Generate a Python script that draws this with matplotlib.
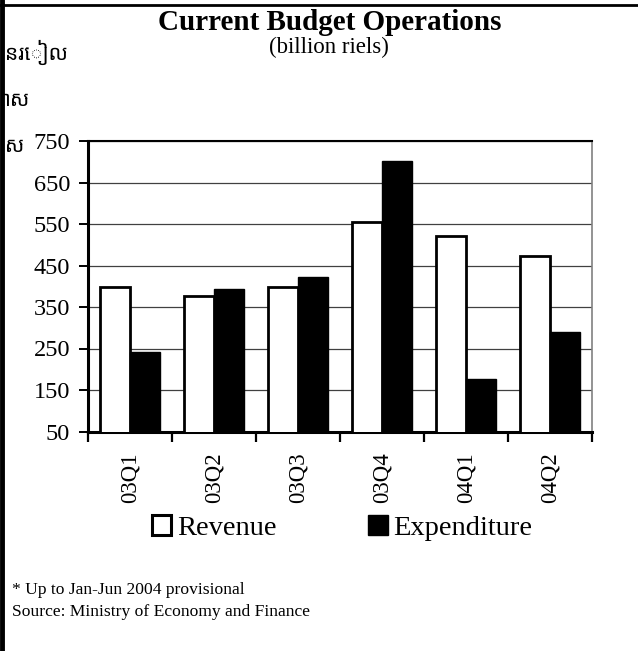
import matplotlib
matplotlib.use("Agg")
import matplotlib.pyplot as plt
from matplotlib.patches import Patch
from matplotlib.lines import Line2D
import numpy as np

categories = ["03Q1", "03Q2", "03Q3", "03Q4", "04Q1", "04Q2"]
revenue = [397, 376, 397, 556, 521, 473]
expenditure = [242, 393, 423, 702, 176, 289]
yticks = [50, 150, 250, 350, 450, 550, 650, 750]
khmer_lines = ["នរៀល", "ាស", "ស"]

plt.rcParams['font.family'] = ['Liberation Serif', 'DejaVu Serif']

fig = plt.figure(figsize=(6.38, 6.51), dpi=100)
ax = fig.add_axes([88/638, 1-431.5/651, (592-88)/638, (431.5-141)/651])

x = np.arange(len(categories))
w = 0.357
ax.bar(x - w/2, revenue, w, color='white', edgecolor='black', linewidth=2, zorder=3)
ax.bar(x + w/2, expenditure, w, color='black', edgecolor='black', linewidth=1, zorder=3)

ax.set_ylim(50, 750)
ax.set_xlim(-0.5, len(categories) - 0.5)
ax.set_yticks(yticks)
ax.set_yticklabels([str(v) for v in yticks], fontsize=17.5)
ax.yaxis.grid(True, color='#404040', linewidth=0.9, zorder=0)
ax.set_axisbelow(True)

ax.set_xticks(x)
ax.set_xticklabels(categories, rotation=90, fontsize=16.5)
ax.set_xticks(np.arange(len(categories) + 1) - 0.5, minor=True)
ax.tick_params(axis='x', which='major', length=0, pad=15)
ax.tick_params(axis='x', which='minor', length=7, width=1.6, direction='out')
ax.tick_params(axis='y', length=6.5, width=1.4, direction='out', pad=6.5)

for s in ['left', 'bottom']:
    ax.spines[s].set_linewidth(2.2)
ax.spines['top'].set_linewidth(1.5)
ax.spines['right'].set_color('#808080')
ax.spines['right'].set_linewidth(1.2)

fig.text(330/638, 1-23/651, "Current Budget Operations", ha='center', va='center',
         fontsize=21, fontweight='bold')
fig.text(329/638, 1-47/651, "(billion riels)", ha='center', va='center', fontsize=16.5)

handles = [Patch(facecolor='white', edgecolor='black', linewidth=2.2),
           Patch(facecolor='black', edgecolor='black')]
fig.legend(handles, ["Revenue", "Expenditure"], loc='center', bbox_to_anchor=(342/638, 1-528/651),
           ncol=2, frameon=False, fontsize=20.5, handlelength=0.7, handleheight=0.7,
           handletextpad=0.2, columnspacing=3.2, borderpad=0)

fig.text(12/638, 1-590/651, "* Up to Jan-Jun 2004 provisional", ha='left', va='center', fontsize=12.6)
fig.text(12/638, 1-612/651, "Source: Ministry of Economy and Finance", ha='left', va='center', fontsize=12.6)

for txt, yy in zip(khmer_lines, [52, 100, 147]):
    fig.text(5/638, 1-yy/651, txt, ha='left', va='center', fontsize=15,
             family=['Noto Sans Khmer', 'Khmer OS', 'Noto Sans', 'DejaVu Sans'])

# frame lines
fig.add_artist(Line2D([2/638, 2/638], [0, 1], transform=fig.transFigure, color='black', linewidth=3.5))
fig.add_artist(Line2D([0, 637/638], [1-5/651, 1-5/651], transform=fig.transFigure, color='black', linewidth=2))

fig.savefig("out.png", dpi=100)
